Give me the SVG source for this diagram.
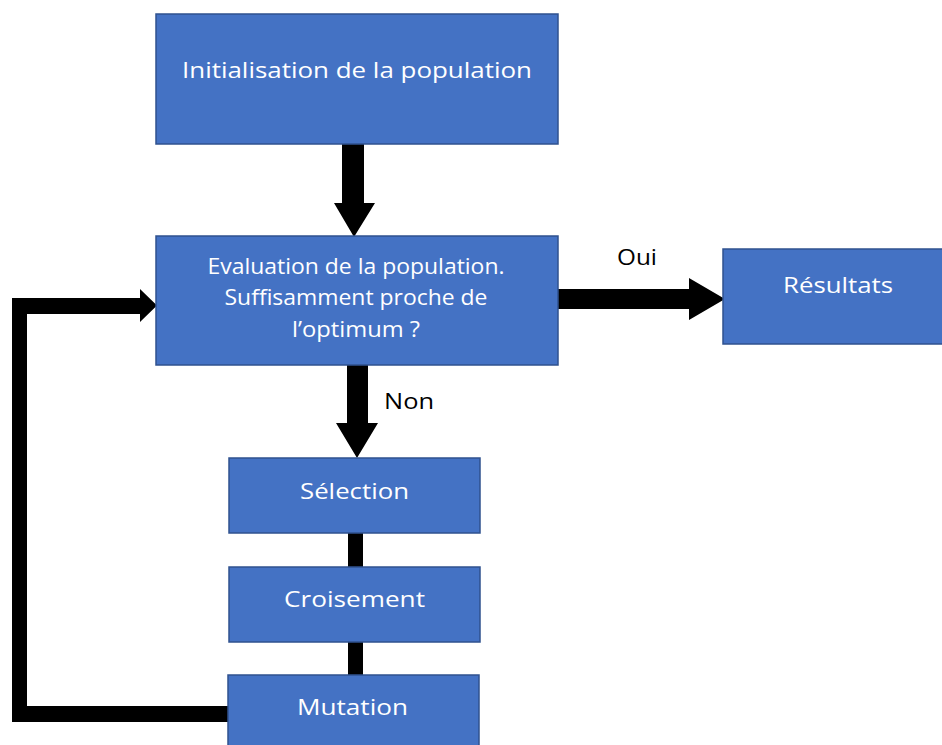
<svg xmlns="http://www.w3.org/2000/svg" width="942" height="745" viewBox="0 0 942 745">
<style>
.box{fill:#4472C4;stroke:#2F528F;stroke-width:1.5}
.t{font-family:"Open Sans","Liberation Sans",sans-serif;fill:#fff;text-anchor:middle;font-size:22px}
.lbl{font-family:"Open Sans","Liberation Sans",sans-serif;fill:#000;font-size:22px}
.c{fill:#000}
</style>
<rect width="942" height="745" fill="#fff"/>
<g id="connectors">
<path class="c" d="M342,144 H364 V203 H375 L354,237 L334,203 H342 Z"/>
<path class="c" d="M347,365 H368 V423 H378 L357,458 L336,423 H347 Z"/>
<path class="c" d="M558,289 H689 V278 L725,299 L689,320 V309 H558 Z"/>
<rect class="c" x="348" y="533" width="15" height="34"/>
<rect class="c" x="348" y="642" width="15" height="33"/>
<path class="c" d="M228,706 V722 H12 V298 H140 V289 L157,305.5 L140,322 V314 H27 V706 Z"/>
<text class="lbl" x="617" y="265" textLength="40" lengthAdjust="spacingAndGlyphs">Oui</text>
<text class="lbl" x="384" y="409" textLength="50" lengthAdjust="spacingAndGlyphs">Non</text>
</g>
<g id="init">
<rect class="box" x="156" y="14" width="402" height="130"/>
<text class="t" x="357" y="78" font-size="24" textLength="350" lengthAdjust="spacingAndGlyphs">Initialisation de la population</text>
</g>
<g id="eval">
<rect class="box" x="156" y="236" width="402" height="129"/>
<text class="t" x="356" y="274" font-size="19" textLength="297" lengthAdjust="spacingAndGlyphs">Evaluation  de la population.</text>
<text class="t" x="356" y="305" font-size="19" textLength="263" lengthAdjust="spacingAndGlyphs">Suffisamment  proche de</text>
<text class="t" x="356" y="337" font-size="19" textLength="128" lengthAdjust="spacingAndGlyphs">l’optimum  ?</text>
</g>
<g id="resultats">
<rect class="box" x="723" y="249" width="222" height="95"/>
<text class="t" x="838" y="293" textLength="110" lengthAdjust="spacingAndGlyphs">Résultats</text>
</g>
<g id="selection">
<rect class="box" x="229" y="458" width="251" height="75"/>
<text class="t" x="354.5" y="499" textLength="109" lengthAdjust="spacingAndGlyphs">Sélection</text>
</g>
<g id="croisement">
<rect class="box" x="229" y="567" width="251" height="75"/>
<text class="t" x="354.5" y="607" textLength="141" lengthAdjust="spacingAndGlyphs">Croisement</text>
</g>
<g id="mutation">
<rect class="box" x="228" y="675" width="251" height="80"/>
<text class="t" x="352.5" y="715" textLength="111" lengthAdjust="spacingAndGlyphs">Mutation</text>
</g>
</svg>
